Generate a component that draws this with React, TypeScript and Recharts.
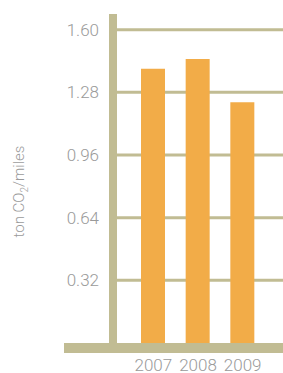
import React from "react";
import {
  BarChart,
  Bar,
  XAxis,
  YAxis,
  CartesianGrid,
} from "recharts";

const YEARS = ["2007", "2008", "2009"];
const EMISSIONS = [1.4, 1.45, 1.23];
const Y_TICKS = [0.32, 0.64, 0.96, 1.28, 1.6];

const TAN = "#C1BC93";
const ORANGE = "#F2AC48";
const GREY = "#9a9a9a";
const FONT = "'Liberation Sans Narrow', 'Roboto', sans-serif";

const data = YEARS.map((year, i) => ({ year, value: EMISSIONS[i] }));

function UnitLabel({ viewBox }: any) {
  const x = viewBox.x + 24;
  const y = viewBox.y + viewBox.height / 2 + 13;
  return (
    <text
      x={x}
      y={y}
      transform={`rotate(-90, ${x}, ${y})`}
      textAnchor="middle"
      fill={GREY}
      fontSize={15}
      fontFamily={FONT}
      fontWeight={300}
    >
      <tspan>ton CO</tspan>
      <tspan fontSize={10} dy={4}>2</tspan>
      <tspan dy={-4}>/miles</tspan>
    </text>
  );
}

export default function App() {
  return (
    <div style={{ position: "absolute", left: 0, top: 0, background: "#fff" }}>
      <BarChart
        width={283}
        height={373}
        data={data}
        margin={{ top: 14, right: 0, bottom: 0, left: 0 }}
      >
        <CartesianGrid
          vertical={false}
          stroke={TAN}
          strokeWidth={3}
          horizontalValues={Y_TICKS}
        />
        <XAxis
          dataKey="year"
          height={30}
          axisLine={false}
          tickLine={false}
          tickSize={0}
          tickMargin={16}
          padding={{ left: 18, right: 18 }}
          tick={{ fill: GREY, fontSize: 17, fontFamily: FONT, fontWeight: 300 }}
        />
        <YAxis
          width={113}
          domain={[0, 1.68]}
          ticks={Y_TICKS}
          tickFormatter={(v: number) => v.toFixed(2)}
          axisLine={{ stroke: TAN, strokeWidth: 8 }}
          tickLine={false}
          tickSize={0}
          tickMargin={14}
          tick={{ fill: GREY, fontSize: 17, fontFamily: FONT, fontWeight: 300 }}
          label={<UnitLabel />}
        />
        <Bar
          dataKey="value"
          fill={ORANGE}
          barSize={24}
          isAnimationActive={false}
        />
        <rect x={64} y={343} width={219} height={10} fill={TAN} />
      </BarChart>
    </div>
  );
}
